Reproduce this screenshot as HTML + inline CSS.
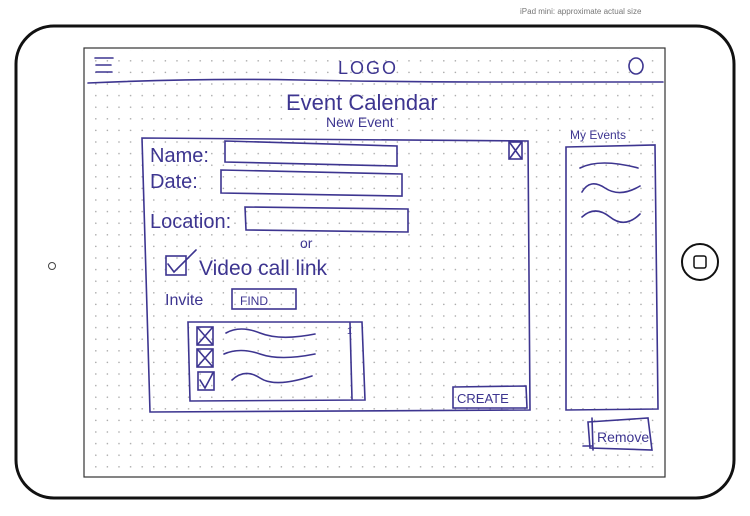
<!DOCTYPE html>
<html><head><meta charset="utf-8"><style>
html,body{margin:0;padding:0;background:#fff;}
svg{display:block}
text{font-family:"Liberation Sans",sans-serif;fill:#3d3590}
</style></head><body>
<svg width="750" height="516" viewBox="0 0 750 516" xmlns="http://www.w3.org/2000/svg">
<defs>
<pattern id="dots" x="95" y="60" width="11.6" height="11.6" patternUnits="userSpaceOnUse">
<circle cx="0.8" cy="0.8" r="0.8" fill="#a8a8a8"/>
</pattern>
</defs>
<text x="520" y="14" font-size="8" style="fill:#777">iPad mini: approximate actual size</text>
<rect x="16" y="26" width="718" height="472" rx="38" fill="#fff" stroke="#111" stroke-width="3"/>
<rect x="84" y="48" width="581" height="429" fill="#fff" stroke="#333" stroke-width="1.2"/>
<rect x="86" y="50" width="577" height="425" fill="url(#dots)"/>
<circle cx="52" cy="266" r="3.5" fill="none" stroke="#444" stroke-width="1"/>
<circle cx="700" cy="262" r="18" fill="none" stroke="#111" stroke-width="2"/>
<rect x="694" y="256" width="12" height="12" rx="2" fill="none" stroke="#111" stroke-width="1.5"/>
<g stroke="#3d3590" stroke-width="1.6" fill="none" stroke-linecap="round">
<path d="M95 58h18M96 65h15M96 72h16"/>
<path d="M88 83 Q200 78 300 80 T480 82 T663 82"/>
<ellipse cx="636" cy="66" rx="7" ry="8"/>
<path d="M142 138 L528 141 L530 410 L150 412 Z"/>
<rect x="509" y="142" width="13" height="17"/>
<path d="M510 143 L521 158 M521 143 L510 158"/>
<path d="M225 141 L397 146 L397 166 L225 162 Z"/>
<path d="M221 170 L402 174 L402 196 L221 193 Z"/>
<path d="M245 207 L408 209 L408 232 L246 230 Z"/>
<rect x="166" y="256" width="20" height="19"/>
<path d="M168 264 L174 272 L196 250"/>
<rect x="232" y="289" width="64" height="20"/>
<path d="M188 322 L362 322 L365 400 L190 401 Z"/>
<path d="M350 323 L352 399"/>
<rect x="197" y="327" width="16" height="18"/><path d="M198 328 L212 344 M212 328 L198 344"/>
<rect x="197" y="349" width="16" height="18"/><path d="M198 350 L212 366 M212 350 L198 366"/>
<rect x="198" y="372" width="16" height="18"/><path d="M200 380 L205 388 L213 373"/>
<path d="M226 333 Q240 325 260 333 T315 334"/>
<path d="M224 354 Q240 347 260 354 T315 354"/>
<path d="M232 380 Q245 368 260 378 T312 376"/>
<path d="M453 387 L526 386 L527 408 L453 408 Z"/>
<path d="M566 147 L655 145 L658 409 L566 410 Z"/>
<path d="M580 168 Q600 158 638 168"/>
<path d="M582 192 Q590 178 605 188 T640 186"/>
<path d="M582 217 Q595 205 610 217 T640 214"/>
<path d="M588 422 L648 418 L652 450 L590 448 Z"/>
<path d="M592 418 L593 450 M583 446 L592 446"/>
</g>
<text x="338" y="74" font-size="18" letter-spacing="2">LOGO</text>
<text x="286" y="110" font-size="22">Event Calendar</text>
<text x="326" y="127" font-size="14">New Event</text>
<text x="150" y="162" font-size="20">Name:</text>
<text x="150" y="188" font-size="20">Date:</text>
<text x="150" y="228" font-size="20">Location:</text>
<text x="300" y="248" font-size="14">or</text>
<text x="199" y="275" font-size="21">Video call link</text>
<text x="165" y="305" font-size="16">Invite</text>
<text x="240" y="305" font-size="12">FIND</text>
<text x="457" y="403" font-size="13">CREATE</text>
<text x="570" y="139" font-size="12">My Events</text>
<text x="597" y="442" font-size="14">Remove</text>
<text x="347" y="334" font-size="9">1</text>
</svg>
</body></html>
